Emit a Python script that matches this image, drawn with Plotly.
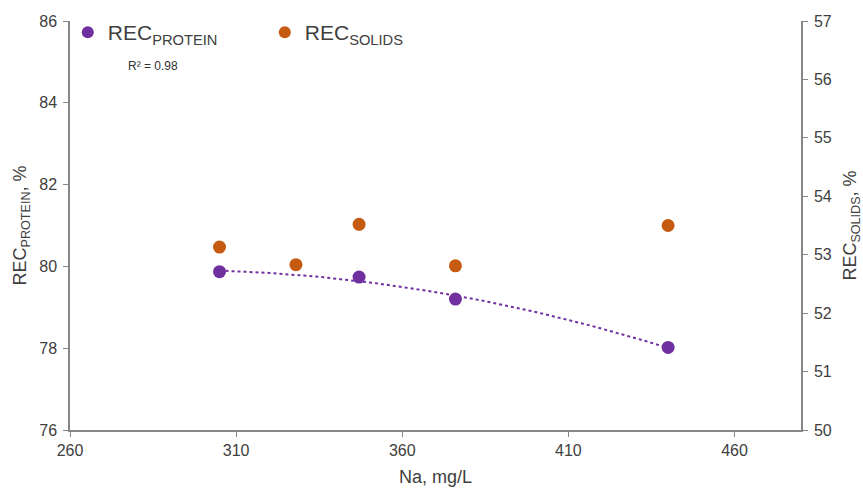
import numpy as np
import plotly.graph_objects as go

na_protein = [305, 347, 376, 440]
rec_protein = [79.87, 79.74, 79.20, 78.02]
na_solids = [305, 328, 347, 376, 440]
rec_solids = [53.13, 52.83, 53.52, 52.81, 53.50]

PURPLE = "#7030A0"
ORANGE = "#C55A11"
AXIS = "#868686"
FONT = "Liberation Sans, Arial, sans-serif"

coef = np.polyfit(na_protein, rec_protein, 2)
xs = np.linspace(min(na_protein), max(na_protein), 100)
ys = np.polyval(coef, xs)

fig = go.Figure()
fig.add_trace(go.Scatter(x=xs, y=ys, mode="lines", line=dict(color=PURPLE, width=2, dash="dot"),
                         showlegend=False, hoverinfo="skip"))
fig.add_trace(go.Scatter(x=na_protein, y=rec_protein, mode="markers", name="REC<sub>PROTEIN</sub>",
                         marker=dict(color=PURPLE, size=13)))
fig.add_trace(go.Scatter(x=na_solids, y=rec_solids, mode="markers", name="REC<sub>SOLIDS</sub>",
                         marker=dict(color=ORANGE, size=13), yaxis="y2"))

fig.add_annotation(text="R² = 0.98", x=(153 - 70) / 731, y=1 - (62 - 17) / 413, xref="paper", yref="paper",
                   xanchor="center", yanchor="middle", showarrow=False,
                   font=dict(size=12, color="#333", family=FONT))

fig.update_layout(
    width=863, height=497,
    margin=dict(l=70, r=62, t=17, b=67),
    paper_bgcolor="white", plot_bgcolor="white",
    font=dict(family=FONT, color="#404040", size=16),
    legend=dict(orientation="h", x=-0.003, y=1.022, xanchor="left", yanchor="top",
                entrywidth=152, entrywidthmode="pixels", font=dict(size=21, color="#404040"),
                bgcolor="rgba(0,0,0,0)", itemsizing="constant"),
    xaxis=dict(range=[260, 480], tick0=260, dtick=50, showline=True, linecolor=AXIS, linewidth=1.5,
               ticks="outside", ticklen=5, tickcolor=AXIS, showgrid=False, zeroline=False,
               automargin=False,
               title=dict(text="Na, mg/L", font=dict(size=18), standoff=12)),
    yaxis=dict(range=[76, 86], dtick=2, showline=True, linecolor=AXIS, linewidth=1.5,
               ticks="outside", ticklen=5, tickcolor=AXIS, showgrid=False, zeroline=False,
               ticklabelstandoff=3, automargin=False,
               title=dict(text="REC<sub>PROTEIN</sub>, %", font=dict(size=18), standoff=8)),
    yaxis2=dict(range=[50, 57], dtick=1, overlaying="y", side="right", showline=True, linecolor=AXIS,
                linewidth=1.5, ticks="outside", ticklen=5, tickcolor=AXIS, showgrid=False, zeroline=False,
                ticklabelstandoff=3, automargin=False,
                title=dict(text="REC<sub>SOLIDS</sub>, %", font=dict(size=18), standoff=14)),
)

fig.write_html("out.html")
